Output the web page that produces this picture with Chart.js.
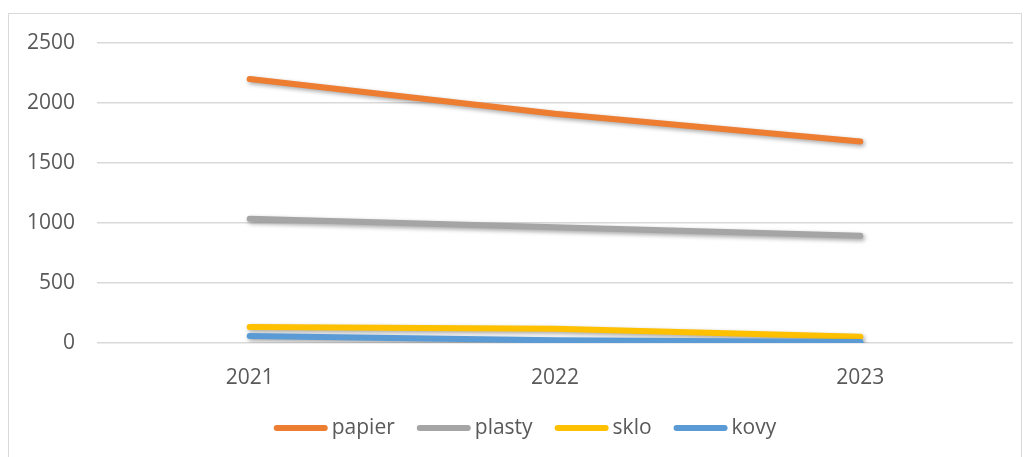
<!DOCTYPE html>
<html>
<head>
<meta charset="utf-8">
<script src="https://cdn.jsdelivr.net/npm/chart.js@4.4.1/dist/chart.umd.min.js"></script>
<style>
  html, body { margin: 0; padding: 0; background: #ffffff; }
  #wrap { position: relative; width: 1030px; height: 457px; }
</style>
</head>
<body>
<div id="wrap"><canvas id="c"></canvas></div>
<script>
// Years on the x axis
const years = ['2021', '2022', '2023'];

// Collected amounts per material
const papier = [2200, 1910, 1680];
const plasty = [1035, 965, 893];
const sklo = [133, 118, 52];
const kovy = [58, 22, 8];

// Value axis ticks
const yTicks = [0, 500, 1000, 1500, 2000, 2500];

const seriesNames = ['papier', 'plasty', 'sklo', 'kovy'];
const seriesColors = ['#ED7D31', '#A5A5A5', '#FFC000', '#5B9BD5'];
const seriesValues = [papier, plasty, sklo, kovy];

const FONT = '"Open Sans", "Liberation Sans", sans-serif';
const TEXT = '#595959';

const datasets = seriesValues.map((vals, i) => ({
  label: seriesNames[i],
  data: vals,
  borderColor: seriesColors[i],
  backgroundColor: seriesColors[i],
  borderWidth: 6,
  borderCapStyle: 'round',
  borderJoinStyle: 'round',
  pointRadius: 0,
  pointHoverRadius: 0,
  tension: 0,
  fill: false,
  order: seriesValues.length - 1 - i
}));

// Soft drop shadow under the series lines
const lineShadow = {
  id: 'lineShadow',
  beforeDatasetsDraw(chart) {
    const ctx = chart.ctx;
    ctx.save();
    ctx.shadowColor = 'rgba(0,0,0,0.35)';
    ctx.shadowBlur = 4;
    ctx.shadowOffsetX = 1.5;
    ctx.shadowOffsetY = 2;
  },
  afterDatasetsDraw(chart) {
    chart.ctx.restore();
  }
};

// Frame around the whole chart and the legend row underneath
const frameAndLegend = {
  id: 'frameAndLegend',
  afterDraw(chart) {
    const ctx = chart.ctx;
    ctx.save();
    ctx.strokeStyle = '#D9D9D9';
    ctx.lineWidth = 1;
    ctx.strokeRect(8.5, 13.5, 1013, 460);

    ctx.font = '21px ' + FONT;
    ctx.textBaseline = 'middle';
    const lineLen = 54, gapText = 4, gapItem = 22, y = 428;
    const widths = chart.data.datasets.map(d => lineLen + gapText + ctx.measureText(d.label).width);
    const total = widths.reduce((a, b) => a + b, 0) + gapItem * (widths.length - 1);
    let x = 525 - total / 2;
    chart.data.datasets.forEach((d, i) => {
      ctx.strokeStyle = d.borderColor;
      ctx.lineWidth = 6;
      ctx.lineCap = 'round';
      ctx.beginPath();
      ctx.moveTo(x + 3, y);
      ctx.lineTo(x + lineLen - 3, y);
      ctx.stroke();
      ctx.fillStyle = TEXT;
      ctx.fillText(d.label, x + lineLen + gapText, y);
      x += widths[i] + gapItem;
    });
    ctx.restore();
  }
};

new Chart(document.getElementById('c'), {
  type: 'line',
  data: { labels: years, datasets },
  options: {
    responsive: true,
    maintainAspectRatio: false,
    animation: false,
    layout: { padding: { left: 0, right: 17, top: 43, bottom: 0 } },
    plugins: {
      legend: { display: false },
      tooltip: { enabled: false }
    },
    scales: {
      x: {
        offset: true,
        grid: { display: false, drawTicks: false },
        border: { display: false },
        ticks: { color: TEXT, font: { family: FONT, size: 21 }, padding: 22 },
        afterFit(scale) { scale.height = 114; }
      },
      y: {
        min: 0,
        max: 2500,
        afterBuildTicks(scale) { scale.ticks = yTicks.map(v => ({ value: v })); },
        grid: { color: '#D9D9D9', lineWidth: 1.5, drawTicks: false },
        border: { display: false },
        ticks: {
          color: TEXT,
          font: { family: FONT, size: 21 },
          padding: 22,
          callback: (v) => String(v)
        },
        afterFit(scale) { scale.width = 97; }
      }
    }
  },
  plugins: [lineShadow, frameAndLegend]
});
</script>
</body>
</html>
